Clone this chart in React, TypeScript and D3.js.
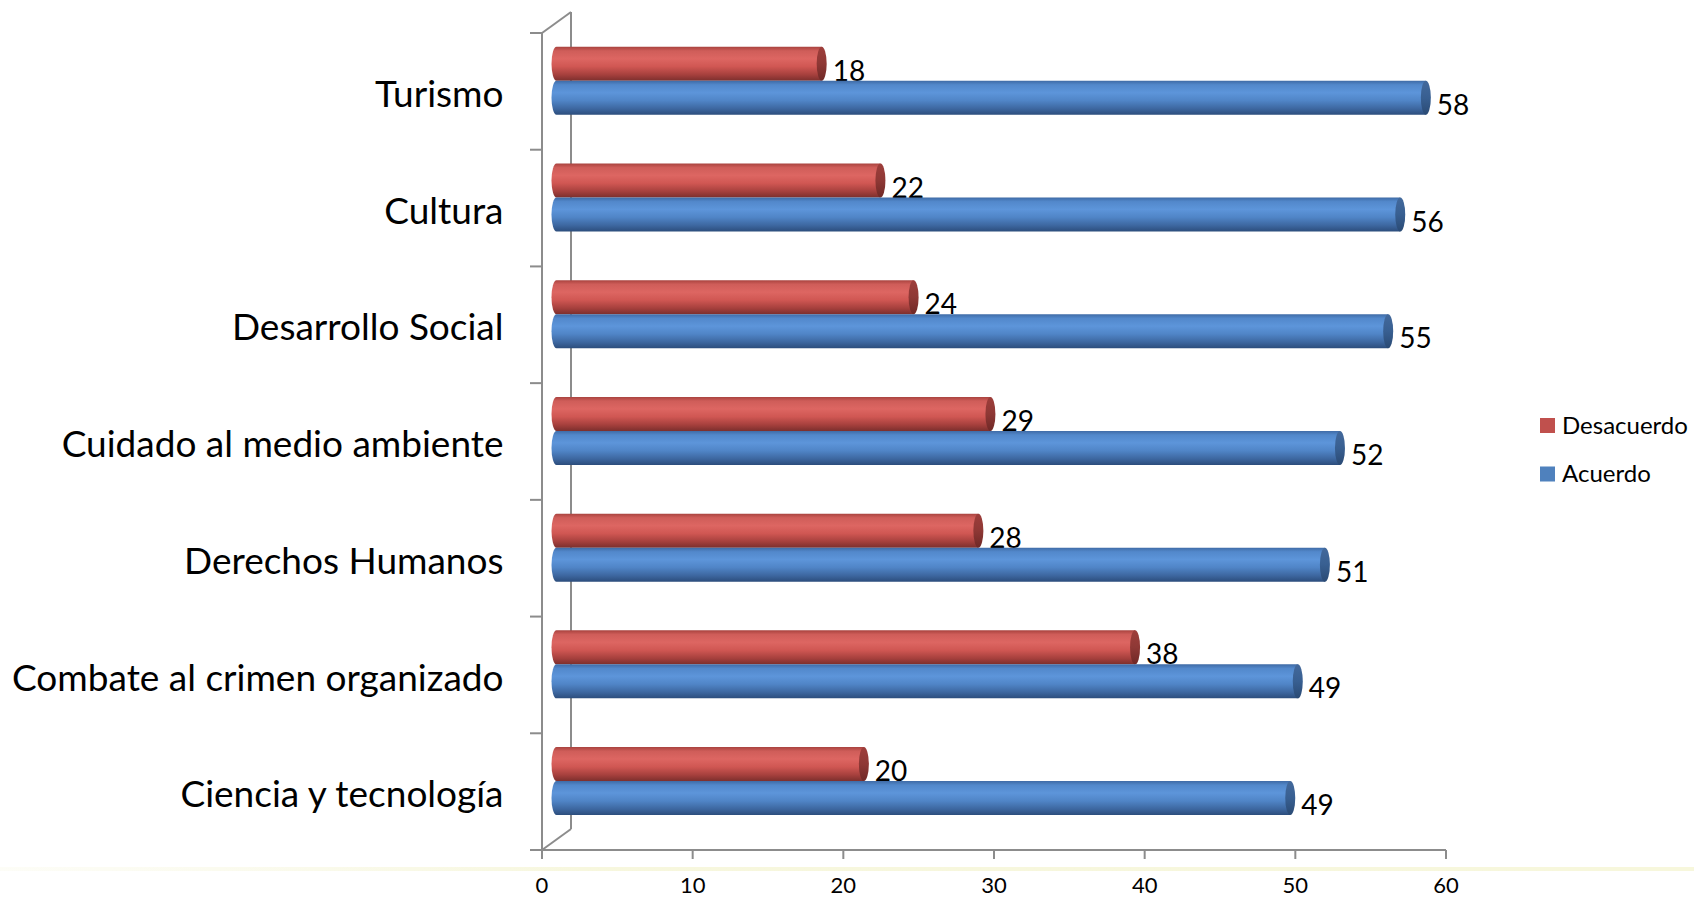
import React from 'react';
import * as d3 from 'd3';

const categories = [
  'Turismo',
  'Cultura',
  'Desarrollo Social',
  'Cuidado al medio ambiente',
  'Derechos Humanos',
  'Combate al crimen organizado',
  'Ciencia y tecnología',
];
const desacuerdo = [17.6, 21.5, 23.7, 28.8, 28.0, 38.4, 20.4];
const acuerdo = [57.7, 56.0, 55.2, 52.0, 51.0, 49.2, 48.7];
const xTicks = [0, 10, 20, 30, 40, 50, 60];
const seriesNames = ['Desacuerdo', 'Acuerdo'];
const seriesColors = ['#c0504d', '#4f81bd'];

const W = 1694;
const H = 898;
const FONT = 'Lato, "Open Sans", sans-serif';

export default function App() {
  const x = d3.scaleLinear().domain([0, 60]).range([542, 1446]);
  const y = d3.scaleBand<string>().domain(categories).range([33, 850]);
  const depthX = 29;
  const depthY = 21;
  const barH = 34;
  const rx = 5;
  const barOff = 14.5; // half-depth shift
  const xb = (v: number) => x(v) + barOff;
  const grey = '#8c8c8c';

  const cyl = (x0: number, x1: number, yy: number, h: number) =>
    `M${x0},${yy} L${x1},${yy} L${x1},${yy + h} L${x0},${yy + h} A${rx},${h / 2} 0 0 1 ${x0},${yy} Z`;

  const series = [desacuerdo, acuerdo];
  const yTop = y.range()[0];
  const yBot = y.range()[1];
  const boundaries = categories.map((c) => y(c) as number).concat([yBot]);

  return (
    <svg
      width={W}
      height={H}
      style={{ position: 'absolute', left: 0, top: 0, background: '#fff' }}
      fontFamily={FONT}
    >
      <defs>
        <linearGradient id="gRed" x1="0" y1="0" x2="0" y2="1">
          <stop offset="0" stopColor="#a9433f" />
          <stop offset="0.12" stopColor="#cf5d59" />
          <stop offset="0.35" stopColor="#dd6662" />
          <stop offset="0.58" stopColor="#d05753" />
          <stop offset="0.82" stopColor="#a6403d" />
          <stop offset="1" stopColor="#7c2f2d" />
        </linearGradient>
        <linearGradient id="gBlue" x1="0" y1="0" x2="0" y2="1">
          <stop offset="0" stopColor="#3f6ba6" />
          <stop offset="0.12" stopColor="#5288cb" />
          <stop offset="0.35" stopColor="#5d95da" />
          <stop offset="0.58" stopColor="#5085c7" />
          <stop offset="0.82" stopColor="#3d67a0" />
          <stop offset="1" stopColor="#2c4d7c" />
        </linearGradient>
        <linearGradient id="gRedCap" x1="0" y1="0" x2="0" y2="1">
          <stop offset="0" stopColor="#9e3e3b" />
          <stop offset="0.5" stopColor="#8e3835" />
          <stop offset="1" stopColor="#6f2826" />
        </linearGradient>
        <linearGradient id="gBlueCap" x1="0" y1="0" x2="0" y2="1">
          <stop offset="0" stopColor="#43699c" />
          <stop offset="0.5" stopColor="#385f91" />
          <stop offset="1" stopColor="#2a4a74" />
        </linearGradient>
        <linearGradient id="gYellow" x1="0" y1="0" x2="1" y2="0">
          <stop offset="0" stopColor="#f8f8e4" stopOpacity="0.3" />
          <stop offset="0.35" stopColor="#f6f6da" stopOpacity="0.9" />
          <stop offset="1" stopColor="#f7f7dc" stopOpacity="1" />
        </linearGradient>
      </defs>

      {/* faint yellow band */}
      <rect x={0} y={867} width={W} height={4} fill="url(#gYellow)" />

      {/* 3D wall lines */}
      <g stroke={grey} strokeWidth={2} fill="none">
        <line x1={x(0) + depthX} y1={yTop - depthY} x2={x(0) + depthX} y2={yBot - depthY} />
        <line x1={x(0) + depthX} y1={yTop - depthY} x2={x(0)} y2={yTop} />
        <line x1={x(0) + depthX} y1={yBot - depthY} x2={x(0)} y2={yBot} />
        <line x1={x(0)} y1={yTop} x2={x(0)} y2={yBot} />
        <line x1={x(0)} y1={yBot} x2={x(60)} y2={yBot} />
        {boundaries.map((b, i) => (
          <line key={'ct' + i} x1={x(0) - 12} y1={b} x2={x(0)} y2={b} />
        ))}
        {xTicks.map((t) => (
          <line key={'xt' + t} x1={x(t)} y1={yBot} x2={x(t)} y2={yBot + 9} />
        ))}
      </g>

      {/* x tick labels */}
      {xTicks.map((t) => (
        <text key={'xl' + t} x={x(t)} y={893} fontSize={22} textAnchor="middle" fill="#000">
          {t}
        </text>
      ))}

      {/* category labels */}
      {categories.map((c) => (
        <text
          key={'cl' + c}
          x={503.5}
          y={(y(c) as number) + 74}
          fontSize={37}
          textAnchor="end"
          fill="#000"
        >
          {c}
        </text>
      ))}

      {/* bars */}
      {categories.map((c, i) => {
        const b0 = (y(c) as number) + 13.8;
        return (
          <g key={'b' + c}>
            {series.map((s, si) => {
              const yy = b0 + si * barH;
              const x0 = xb(0);
              const x1 = xb(s[i]);
              return (
                <g key={si}>
                  <path
                    d={cyl(x0, x1, yy, barH)}
                    fill={si === 0 ? 'url(#gRed)' : 'url(#gBlue)'}
                  />
                  <ellipse
                    cx={x1}
                    cy={yy + barH / 2}
                    rx={rx}
                    ry={barH / 2}
                    fill={si === 0 ? 'url(#gRedCap)' : 'url(#gBlueCap)'}
                  />
                  <text x={x1 + rx + 6} y={yy + barH} fontSize={28} fill="#000">
                    {Math.round(s[i])}
                  </text>
                </g>
              );
            })}
          </g>
        );
      })}

      {/* legend */}
      {seriesNames.map((n, i) => (
        <g key={'lg' + n}>
          <rect x={1540} y={418 + i * 48.5} width={15} height={15} fill={seriesColors[i]} />
          <text x={1562} y={433.5 + i * 48.5} fontSize={24} fill="#000">
            {n}
          </text>
        </g>
      ))}
    </svg>
  );
}
